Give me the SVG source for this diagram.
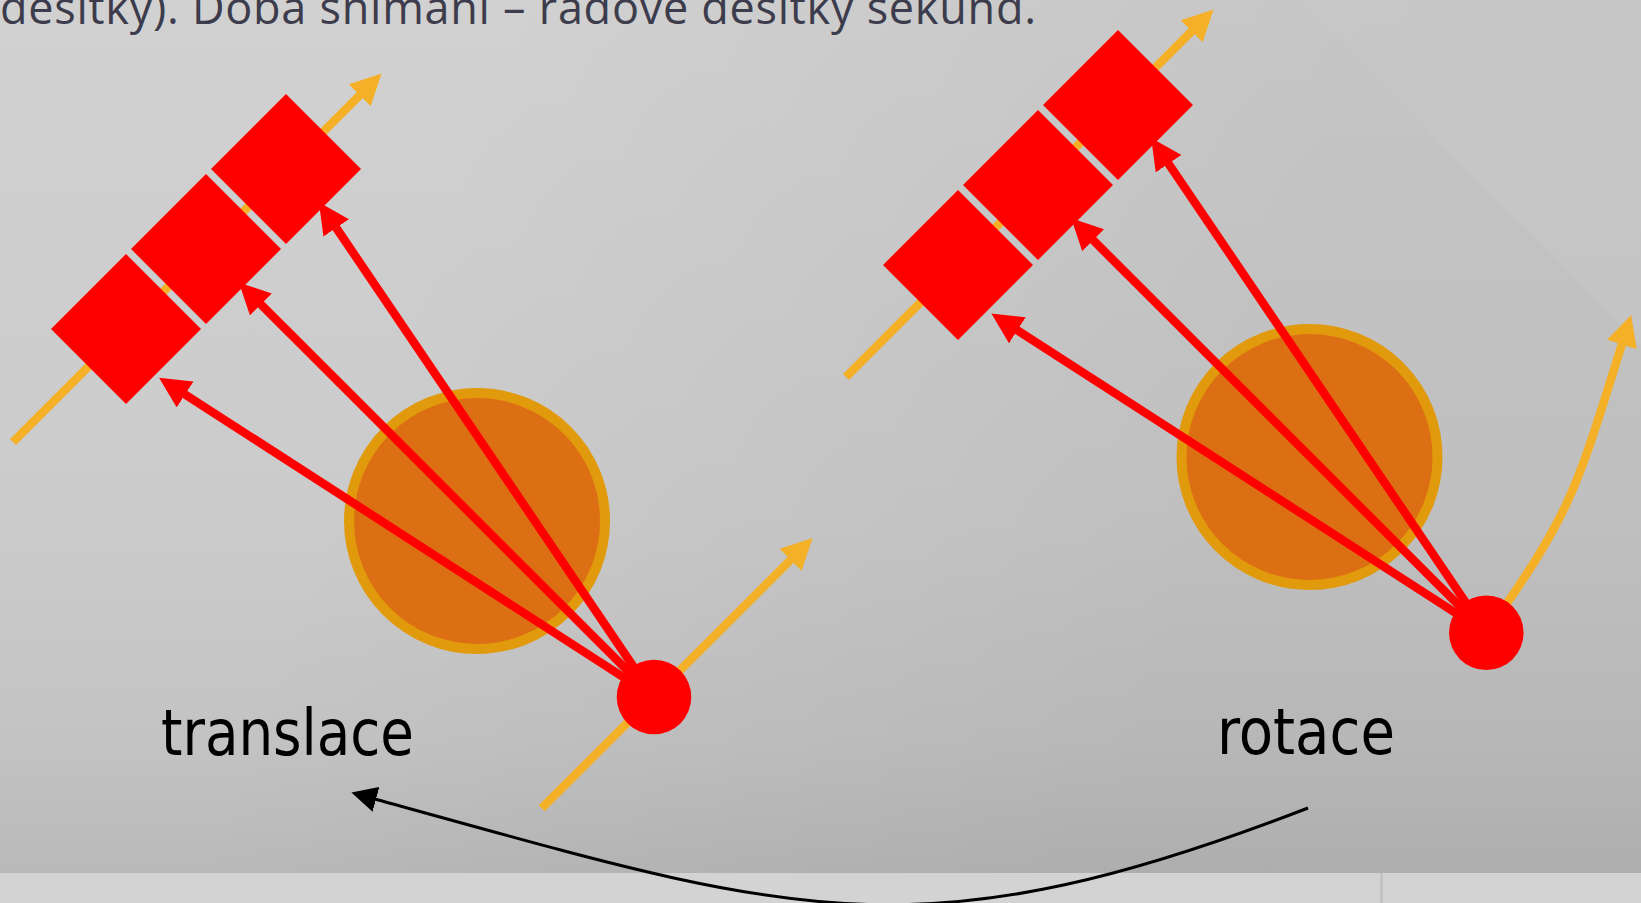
<svg xmlns="http://www.w3.org/2000/svg" width="1641" height="903" viewBox="0 0 1641 903">
  <style>
    .sq { fill: #ff0000; }
    .planet { fill: #dc6f14; stroke: #e19a0c; stroke-width: 10; }
    .dot { fill: #ff0000; }
    .red { fill: none; stroke: #ff0000; stroke-width: 8.5; marker-end: url(#ahRed); }
    .orange { fill: none; stroke: #f4b027; stroke-width: 8.5; marker-end: url(#ahOrange); }
    .black { fill: none; stroke: #000000; stroke-width: 3; marker-end: url(#ahBlack); }
    .label { font-family: "DejaVu Sans Condensed", "DejaVu Sans", sans-serif; font-stretch: condensed; font-size: 64px; fill: #000000; }
    .top { font-family: "Open Sans", "Noto Sans", sans-serif; font-size: 45px; fill: #3c3c4c; }
  </style>
  <defs>
    <linearGradient id="bgV" x1="0" y1="0" x2="0" y2="873" gradientUnits="userSpaceOnUse">
      <stop offset="0" stop-color="#d1d1d1"/>
      <stop offset="0.6" stop-color="#cbcbcb"/>
      <stop offset="0.85" stop-color="#c3c3c3"/>
      <stop offset="1" stop-color="#b9b9b9"/>
    </linearGradient>
    <linearGradient id="bgH" x1="500" y1="0" x2="1300" y2="300" gradientUnits="userSpaceOnUse">
      <stop offset="0" stop-color="#000000" stop-opacity="0"/>
      <stop offset="1" stop-color="#000000" stop-opacity="0.06"/>
    </linearGradient>
    <marker id="ahRed" viewBox="0 0 31 31" refX="0.5" refY="15.5" markerWidth="31" markerHeight="31" markerUnits="userSpaceOnUse" orient="auto">
      <path d="M0,0 L31,15.5 L0,31 z" fill="#ff0000"/>
    </marker>
    <marker id="ahOrange" viewBox="0 0 31 31" refX="0.5" refY="15.5" markerWidth="31" markerHeight="31" markerUnits="userSpaceOnUse" orient="auto">
      <path d="M0,0 L31,15.5 L0,31 z" fill="#f4b027"/>
    </marker>
    <marker id="ahBlack" viewBox="0 0 25.5 25.5" refX="0.5" refY="12.75" markerWidth="25.5" markerHeight="25.5" markerUnits="userSpaceOnUse" orient="auto">
      <path d="M0,0 L25.5,12.75 L0,25.5 z" fill="#000000"/>
    </marker>
  </defs>

  <g id="background">
    <rect x="0" y="0" width="1641" height="873" fill="url(#bgV)"/>
    <rect x="0" y="0" width="1641" height="873" fill="url(#bgH)"/>
    <polygon points="1300,0 1641,0 1641,345" fill="#cbcbcb" opacity="0.4"/>
    <rect x="0" y="873" width="1641" height="30" fill="#d3d3d3"/>
    <rect x="1380" y="873" width="3" height="30" fill="#c3c3c3"/>
  </g>

  <g id="top-text">
    <text class="top" x="0" y="24" textLength="1036">desítky). Doba snímání – řádově desítky sekund.</text>
  </g>

  <g id="planet-left">
    <circle class="planet" cx="477" cy="521" r="128"/>
  </g>
  <g id="planet-right">
    <circle class="planet" cx="1309.5" cy="457" r="128"/>
  </g>

  <g id="connectors">
    <path class="orange" d="M13,442 L360,95"/>
    <path class="orange" d="M541.7,808.3 L791,559.5"/>
    <path class="orange" d="M846,377 L1192,31"/>
    <path class="orange" d="M1486,633 C1573,511.5 1577,487 1622,344"/>

    <path class="red" d="M654,697 L336,227.5"/>
    <path class="red" d="M654,697 L260.5,304"/>
    <path class="red" d="M654,697 L184.7,394.2"/>
    <path class="red" d="M1486.3,632.8 L1168.3,163.3"/>
    <path class="red" d="M1486.3,632.8 L1092.8,239.8"/>
    <path class="red" d="M1486.3,632.8 L1017,330"/>

    <path class="black" d="M1308,808 C911,961.8 786.2,912.1 375.5,799.2"/>
  </g>

  <g id="probe-left">
    <polygon class="sq" points="286,94 361,169 286,244 211,169"/>
    <polygon class="sq" points="206,174 281,249 206,324 131,249"/>
    <polygon class="sq" points="126,254 201,329 126,404 51,329"/>
  </g>
  <g id="probe-right">
    <polygon class="sq" points="1118,30 1193,105 1118,180 1043,105"/>
    <polygon class="sq" points="1038,110 1113,185 1038,260 963,185"/>
    <polygon class="sq" points="958,190 1033,265 958,340 883,265"/>
  </g>

  <g id="source-left">
    <circle class="dot" cx="654" cy="697" r="37.3"/>
  </g>
  <g id="source-right">
    <circle class="dot" cx="1486.3" cy="632.8" r="37.3"/>
  </g>

  <g id="label-translace">
    <text class="label" x="161" y="755" textLength="253" lengthAdjust="spacingAndGlyphs">translace</text>
  </g>
  <g id="label-rotace">
    <text class="label" x="1217" y="754" textLength="178" lengthAdjust="spacingAndGlyphs">rotace</text>
  </g>
</svg>
